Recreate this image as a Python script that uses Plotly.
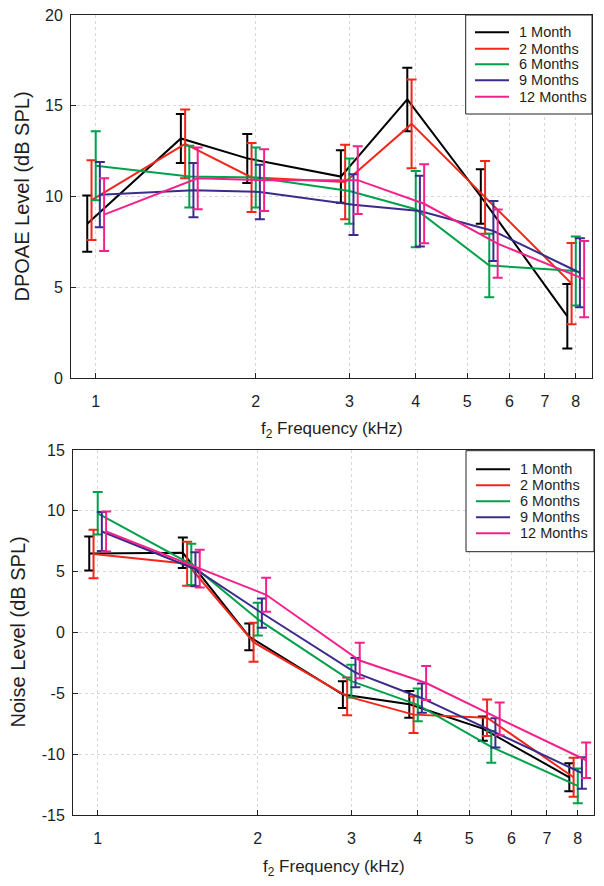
import numpy as np
import plotly.graph_objects as go
from plotly.subplots import make_subplots

# f2 frequencies (kHz)
freqs = [1, 1.5, 2, 3, 4, 5.5, 8]

ages = ["1 Month", "2 Months", "6 Months", "9 Months", "12 Months"]
colors = ["#000000", "#f2261b", "#00a14b", "#3a2c8c", "#f5218a"]

# DPOAE level (dB SPL), mean and error
dp_1m = [8.5, 13.2, 12.1, 11.1, 15.35, 10.0, 3.4]
dp_1m_err = [1.55, 1.35, 1.35, 1.45, 1.75, 1.5, 1.78]
dp_2m = [9.8, 12.9, 11.05, 10.8, 14.0, 9.95, 5.2]
dp_2m_err = [2.2, 1.9, 1.9, 2.05, 2.45, 2.0, 2.24]
dp_6m = [11.7, 11.1, 11.05, 10.3, 9.3, 6.2, 5.9]
dp_6m_err = [1.9, 1.7, 1.65, 1.8, 2.1, 1.75, 1.9]
dp_9m = [10.1, 10.35, 10.25, 9.55, 9.2, 8.1, 5.8]
dp_9m_err = [1.8, 1.5, 1.5, 1.67, 1.95, 1.65, 1.9]
dp_12m = [9.0, 11.0, 10.9, 10.9, 9.6, 7.4, 5.45]
dp_12m_err = [2.0, 1.7, 1.7, 1.87, 2.17, 1.88, 2.1]

# Noise level (dB SPL), mean and error
nz_1m = [6.5, 6.55, -0.35, -5.1, -5.9, -7.9, -11.9]
nz_1m_err = [1.4, 1.25, 1.1, 1.1, 1.1, 1.0, 1.15]
nz_2m = [6.45, 5.65, -0.8, -5.25, -6.75, -7.0, -11.9]
nz_2m_err = [2.0, 1.8, 1.6, 1.55, 1.5, 1.5, 1.6]
nz_6m = [9.8, 5.6, 1.1, -4.0, -5.95, -9.4, -12.6]
nz_6m_err = [1.75, 1.7, 1.35, 1.35, 1.35, 1.3, 1.43]
nz_9m = [8.3, 5.2, 1.6, -3.3, -5.4, -8.25, -11.55]
nz_9m_err = [1.6, 1.4, 1.2, 1.2, 1.2, 1.2, 1.3]
nz_12m = [8.3, 5.25, 3.1, -2.3, -4.15, -7.1, -10.5]
nz_12m_err = [1.65, 1.55, 1.4, 1.45, 1.4, 1.35, 1.45]

dp_ticks = [0, 5, 10, 15, 20]
nz_ticks = [-15, -10, -5, 0, 5, 10, 15]
f_ticks = [1, 2, 3, 4, 5, 6, 7, 8]

dp_means = [dp_1m, dp_2m, dp_6m, dp_9m, dp_12m]
dp_errs = [dp_1m_err, dp_2m_err, dp_6m_err, dp_9m_err, dp_12m_err]
nz_means = [nz_1m, nz_2m, nz_6m, nz_9m, nz_12m]
nz_errs = [nz_1m_err, nz_2m_err, nz_6m_err, nz_9m_err, nz_12m_err]

# small horizontal spread so the error bars don't overlap
spread = [0.964, 0.982, 1.0, 1.018, 1.037]

FONT = "Liberation Sans, Arial, Helvetica, sans-serif"
TXT = "#1e1e1e"

# page body has an 8px margin, so the figure is a bit smaller than the window
OX, OY = 8, 8
W, H = 588, 870


def px(x):
    return (x - OX) / W


def py(y):
    return 1 - (y - OY) / H


fig = make_subplots(rows=2, cols=1)

for k in range(5):
    xs = [f * spread[k] for f in freqs]
    fig.add_trace(go.Scatter(x=xs, y=dp_means[k], mode="lines", name=ages[k],
                             line=dict(color=colors[k], width=2),
                             error_y=dict(type="data", array=dp_errs[k], color=colors[k],
                                          thickness=2, width=5)), row=1, col=1)
for k in range(5):
    xs = [f * spread[k] for f in freqs]
    fig.add_trace(go.Scatter(x=xs, y=nz_means[k], mode="lines", name=ages[k],
                             line=dict(color=colors[k], width=2),
                             error_y=dict(type="data", array=nz_errs[k], color=colors[k],
                                          thickness=2, width=5)), row=2, col=1)

xr = [-0.0465, 0.9336]
xaxis_common = dict(type="log", range=xr, tickvals=f_ticks,
                    ticktext=[str(v) for v in f_ticks],
                    showline=True, linecolor="#222", linewidth=1, mirror=True,
                    ticks="inside", ticklen=5, tickcolor="#222",
                    showgrid=True, gridcolor="#d8d8d8", griddash="dot", gridwidth=1,
                    zeroline=False, tickfont=dict(size=16, color=TXT),
                    ticklabelstandoff=9, ticklabeloverflow="allow", automargin=False)
yaxis_common = dict(showline=True, linecolor="#222", linewidth=1, mirror=True,
                    ticks="inside", ticklen=5, tickcolor="#222",
                    showgrid=True, gridcolor="#d8d8d8", griddash="dot", gridwidth=1,
                    zeroline=False, tickfont=dict(size=16, color=TXT),
                    ticklabelstandoff=4, ticklabeloverflow="allow", automargin=False)

fig.update_layout(
    xaxis=dict(xaxis_common, domain=[px(71), px(592)]),
    xaxis2=dict(xaxis_common, domain=[px(73), px(594)]),
    yaxis=dict(yaxis_common, domain=[py(378), py(15)], range=[0, 20],
               tickvals=dp_ticks, ticktext=[str(v) for v in dp_ticks]),
    yaxis2=dict(yaxis_common, domain=[py(815), py(450)], range=[-15, 15],
                tickvals=nz_ticks, ticktext=[str(v) for v in nz_ticks]),
    width=W, height=H,
    margin=dict(l=0, r=0, t=0, b=0, autoexpand=False),
    plot_bgcolor="white", paper_bgcolor="white",
    font=dict(family=FONT, color=TXT),
    showlegend=False,
)

# axis titles
titles = [
    dict(text="f<sub>2</sub> Frequency (kHz)", x=331.5, y=430, angle=0, size=17),
    dict(text="f<sub>2</sub> Frequency (kHz)", x=333.5, y=868, angle=0, size=17),
    dict(text="DPOAE Level (dB SPL)", x=21, y=196.5, angle=-90, size=20),
    dict(text="Noise Level (dB SPL)", x=17, y=632.5, angle=-90, size=20),
]
for t in titles:
    fig.add_annotation(text=t["text"], x=px(t["x"]), y=py(t["y"]), xref="paper", yref="paper",
                       showarrow=False, textangle=t["angle"], xanchor="center", yanchor="middle",
                       font=dict(size=t["size"], color=TXT, family=FONT))

# legend boxes drawn at pixel positions (one per panel)
legends = [
    dict(box=(465.7, 15, 592, 114), rows=[32.3, 48.7, 64.3, 80.3, 96.7], lx=(475, 509), tx=517),
    dict(box=(466, 450.7, 594, 551.7), rows=[469.3, 485.3, 501.3, 517.3, 533.3], lx=(476, 510), tx=517.5),
]
for lg in legends:
    x0, y0, x1, y1 = lg["box"]
    fig.add_shape(type="rect", xref="paper", yref="paper",
                  x0=px(x0), x1=px(x1), y0=py(y1), y1=py(y0),
                  line=dict(color="#222", width=1), fillcolor="white", layer="above")
    for k, yy in enumerate(lg["rows"]):
        fig.add_shape(type="line", xref="paper", yref="paper",
                      x0=px(lg["lx"][0]), x1=px(lg["lx"][1]), y0=py(yy), y1=py(yy),
                      line=dict(color=colors[k], width=2), layer="above")
        fig.add_annotation(text=ages[k], x=px(lg["tx"]), y=py(yy), xref="paper", yref="paper",
                           showarrow=False, xanchor="left", yanchor="middle",
                           font=dict(size=14.5, color=TXT, family=FONT))

fig.write_html("out.html")
